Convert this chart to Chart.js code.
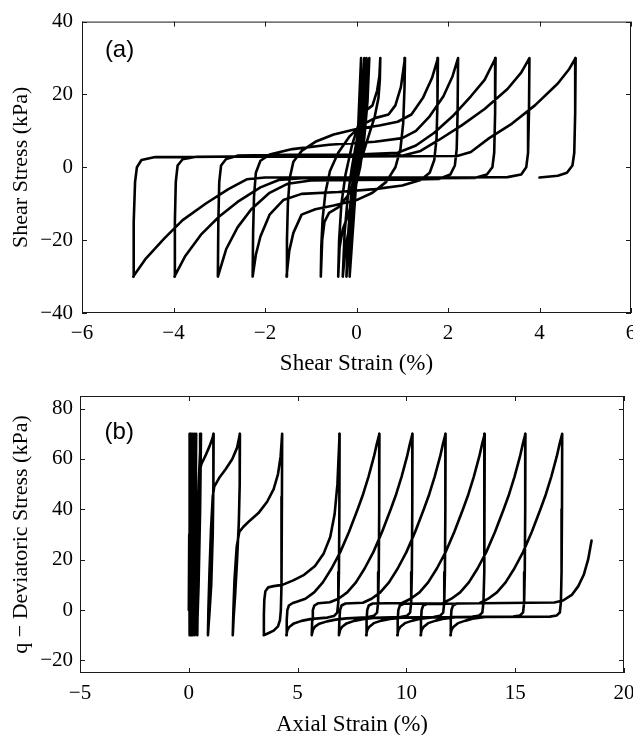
<!DOCTYPE html>
<html>
<head>
<meta charset="utf-8">
<script src="https://cdn.jsdelivr.net/npm/chart.js@4.4.1/dist/chart.umd.min.js"></script>
<style>
html, body { margin: 0; padding: 0; background: #fff; width: 633px; height: 735px; overflow: hidden; }
.panel { position: absolute; left: 0; }
#wrapA { top: 0; }
#wrapB { top: 370px; }
</style>
</head>
<body>
<div class="panel" id="wrapA"><canvas id="chartA" width="660" height="400"></canvas></div>
<div class="panel" id="wrapB"><canvas id="chartB" width="660" height="380"></canvas></div>
<script>
// tick values of both panels
var shearStrainTicks = [-6, -4, -2, 0, 2, 4, 6];
var shearStressTicks = [-40, -20, 0, 20, 40];
var axialStrainTicks = [-5, 0, 5, 10, 15, 20];
var deviatorTicks = [-20, 0, 20, 40, 60, 80];

// (a) simple shear: shear strain (%), shear stress (kPa), one row per half cycle
var shearPath = [
  [0, 0], [0.05, 15], [0.10, 30],
  [0.08, 18], [0.04, 6], [0.0, -3], [-0.05, -12], [-0.10, -21], [-0.15, -30],
  [-0.11, -18], [-0.06, -6], [0.0, 3], [0.06, 12], [0.12, 21], [0.17, 30],
  [0.14, 18], [0.09, 7], [0.02, -2], [-0.06, -10], [-0.14, -19], [-0.22, -30],
  [-0.18, -18], [-0.12, -8], [-0.04, 1], [0.04, 9], [0.13, 18], [0.22, 30],
  [0.19, 18], [0.13, 8], [0.05, 0], [-0.05, -8], [-0.15, -16], [-0.24, -22], [-0.30, -30],
  [-0.26, -18], [-0.19, -8], [-0.10, 0], [0.0, 7], [0.12, 15], [0.21, 21], [0.28, 30],
  [0.24, 18], [0.17, 8], [0.08, 0], [-0.05, -7], [-0.18, -13], [-0.30, -17], [-0.37, -22], [-0.40, -30],
  [-0.38, -20], [-0.33, -10], [-0.24, -2], [-0.10, 6], [0.05, 12], [0.20, 15.5], [0.35, 17], [0.45, 21], [0.50, 25], [0.52, 30],
  [0.51, 24], [0.48, 19], [0.40, 14], [0.25, 8], [0.10, 2], [-0.05, -4], [-0.20, -8], [-0.40, -11], [-0.60, -12.5], [-0.70, -15], [-0.75, -20], [-0.78, -30],
  [-0.77, -22], [-0.74, -14], [-0.68, -7], [-0.58, -1], [-0.40, 4], [-0.15, 8.5], [0.10, 11.5], [0.40, 13.5], [0.70, 14.5], [0.85, 17], [0.97, 22], [1.06, 30],
  [1.05, 22], [1.02, 12], [0.96, 5], [0.85, 0], [0.65, -4], [0.35, -7], [0.0, -9], [-0.50, -10.5], [-0.90, -11.5], [-1.20, -13], [-1.38, -18], [-1.47, -23], [-1.53, -30],
  [-1.52, -20], [-1.50, -10], [-1.46, -3], [-1.38, 1.5], [-1.20, 4.5], [-0.90, 7], [-0.50, 9], [0.0, 10.5], [0.50, 11.5], [0.90, 12.5], [1.20, 14.5], [1.45, 19], [1.65, 24.5], [1.78, 30],
  [1.77, 18], [1.75, 8], [1.70, 2], [1.60, -1.5], [1.40, -3.5], [1.00, -5], [0.40, -6], [-0.40, -6.8], [-1.20, -7.3], [-1.60, -9], [-1.90, -13], [-2.10, -19], [-2.20, -24], [-2.27, -30],
  [-2.26, -18], [-2.24, -8], [-2.20, -1.5], [-2.10, 1.8], [-1.90, 3.5], [-1.40, 5], [-0.60, 6.2], [0.40, 7], [1.00, 8], [1.30, 10], [1.60, 14], [1.90, 19.5], [2.10, 25], [2.22, 30],
  [2.21, 15], [2.19, 5], [2.15, 0.5], [2.05, -2], [1.80, -3.2], [1.00, -3.4], [0.0, -3.5], [-1.00, -3.6], [-1.50, -4.5], [-1.90, -7], [-2.30, -11.5], [-2.60, -16.5], [-2.85, -22.5], [-3.03, -30],
  [-3.02, -15], [-3.00, -4], [-2.96, 0.5], [-2.85, 2.3], [-2.60, 3.2], [-1.50, 3.4], [0.0, 3.5], [0.90, 4], [1.30, 6], [1.70, 9.5], [2.10, 14], [2.50, 19.5], [2.80, 24], [3.04, 30],
  [3.03, 15], [3.01, 4], [2.97, 0], [2.85, -2], [2.60, -2.9], [1.50, -3.0], [0.0, -3.0], [-1.20, -3.0], [-1.70, -3.5], [-2.10, -5.5], [-2.60, -9.5], [-3.00, -13.5], [-3.40, -18.5], [-3.75, -24.5], [-3.98, -30],
  [-3.97, -15], [-3.95, -4], [-3.91, 0.5], [-3.80, 2.2], [-3.50, 2.9], [-2.00, 3.0], [0.0, 3.0], [1.00, 3.2], [1.40, 4.5], [1.80, 7.5], [2.30, 11.5], [2.80, 16], [3.30, 21.5], [3.60, 26], [3.78, 30],
  [3.77, 15], [3.75, 4], [3.71, 0], [3.60, -2], [3.30, -2.7], [2.00, -2.8], [0.0, -2.8], [-2.00, -2.8], [-2.40, -3.3], [-2.80, -6], [-3.30, -10], [-3.80, -14.5], [-4.20, -19.5], [-4.60, -25], [-4.88, -30],
  [-4.87, -15], [-4.84, -4], [-4.80, 0], [-4.70, 2], [-4.40, 2.8], [-3.00, 2.9], [0.0, 3.0], [2.20, 3.1], [2.50, 4.2], [2.90, 8], [3.40, 12], [3.90, 17], [4.40, 23], [4.65, 27], [4.79, 30],
  [4.78, 15], [4.76, 4], [4.72, 0.5], [4.60, -1.5], [4.40, -2.3], [4.00, -2.8]
];

// (b) triaxial: axial strain (%), deviatoric stress q (kPa), one row per half cycle
var axialPath = [
  [0, 0], [0.02, 30], [0.05, 70],
  [0.04, 30], [0.01, -10],
  [0.05, 30], [0.10, 70],
  [0.08, 30], [0.05, -10],
  [0.10, 30], [0.17, 70],
  [0.14, 30], [0.10, -10],
  [0.16, 30], [0.25, 70],
  [0.21, 30], [0.17, -10],
  [0.23, 30], [0.34, 70],
  [0.30, 30], [0.27, -10],
  [0.33, 20], [0.45, 50], [0.56, 70],
  [0.52, 40], [0.45, 10], [0.40, -3], [0.38, -10],
  [0.40, 10], [0.45, 35], [0.50, 55], [0.58, 58], [0.75, 61], [0.95, 65], [1.08, 68], [1.14, 70],
  [1.13, 50], [1.10, 30], [1.03, 10], [0.96, 0], [0.91, -6], [0.88, -10],
  [0.90, 0], [0.95, 15], [1.02, 32], [1.10, 45], [1.17, 49], [1.40, 52.5], [1.70, 56], [2.00, 60], [2.22, 64.5], [2.35, 70],
  [2.34, 50], [2.30, 35], [2.22, 20], [2.13, 6], [2.06, -3], [2.02, -10],
  [2.05, 0], [2.10, 12], [2.20, 25], [2.32, 31], [2.50, 33], [2.80, 35.5], [3.20, 38.5], [3.60, 43], [3.90, 48], [4.10, 54], [4.22, 61], [4.29, 70],
  [4.28, 45], [4.27, 25], [4.25, 10], [4.23, 0], [4.19, -4], [4.10, -6.5], [3.90, -8.2], [3.65, -9.2], [3.44, -10],
  [3.45, -2], [3.47, 4], [3.52, 7.5], [3.65, 9], [3.90, 9.5], [4.30, 10], [4.80, 11.8], [5.30, 14], [5.80, 17.5], [6.20, 22.5], [6.50, 29], [6.70, 38], [6.83, 50], [6.93, 70],
  [6.92, 40], [6.90, 15], [6.87, 3], [6.82, -1], [6.67, -2.4], [6.37, -3], [6.08, -3.2], [5.58, -3.6], [5.18, -4.3], [4.83, -5.3], [4.63, -6.6], [4.53, -8], [4.48, -10],
  [4.50, -4], [4.53, 0], [4.60, 1.8], [4.78, 2.8], [4.96, 3.3], [5.36, 4.5], [5.76, 7], [6.16, 11], [6.56, 16.5], [6.96, 23], [7.36, 31], [7.76, 40], [8.01, 46], [8.26, 53], [8.51, 61], [8.64, 66], [8.76, 70],
  [8.75, 40], [8.73, 15], [8.70, 3], [8.65, -1], [8.50, -2.3], [8.20, -2.9], [7.25, -3.3], [6.75, -3.8], [6.35, -4.5], [6.00, -5.4], [5.80, -6.6], [5.70, -8], [5.65, -10],
  [5.67, -4], [5.70, 0], [5.77, 1.8], [5.95, 2.7], [6.48, 3.1], [6.88, 4.5], [7.28, 7], [7.68, 11], [8.08, 16.5], [8.48, 23], [8.88, 31], [9.28, 40], [9.53, 46], [9.78, 53], [10.03, 61], [10.16, 66], [10.28, 70],
  [10.27, 40], [10.25, 15], [10.22, 3], [10.17, -1], [10.02, -2.3], [9.72, -2.8], [8.50, -3.1], [8.00, -3.6], [7.60, -4.3], [7.25, -5.3], [7.05, -6.6], [6.95, -8], [6.90, -10],
  [6.92, -4], [6.95, 0], [7.02, 1.8], [7.20, 2.6], [8.00, 2.9], [8.40, 4.5], [8.80, 7], [9.20, 11], [9.60, 16.5], [10.00, 23], [10.40, 31], [10.80, 40], [11.05, 46], [11.30, 53], [11.55, 61], [11.68, 66], [11.80, 70],
  [11.79, 40], [11.77, 15], [11.74, 3], [11.69, -1], [11.54, -2.3], [11.24, -2.8], [9.75, -3.0], [9.25, -3.5], [8.85, -4.2], [8.50, -5.2], [8.30, -6.6], [8.20, -8], [8.15, -10],
  [8.17, -4], [8.20, 0], [8.27, 1.8], [8.45, 2.6], [9.80, 2.8], [10.20, 4.5], [10.60, 7], [11.00, 11], [11.40, 16.5], [11.80, 23], [12.20, 31], [12.60, 40], [12.85, 46], [13.10, 53], [13.35, 61], [13.48, 66], [13.60, 70],
  [13.59, 40], [13.57, 15], [13.54, 3], [13.49, -1], [13.34, -2.2], [13.04, -2.7], [11.18, -2.9], [10.68, -3.4], [10.28, -4.2], [9.93, -5.2], [9.73, -6.6], [9.63, -8], [9.58, -10],
  [9.60, -4], [9.63, 0], [9.70, 1.8], [9.88, 2.5], [11.67, 2.7], [12.07, 4.5], [12.47, 7], [12.87, 11], [13.27, 16.5], [13.67, 23], [14.07, 31], [14.47, 40], [14.72, 46], [14.97, 53], [15.22, 61], [15.35, 66], [15.47, 70],
  [15.46, 40], [15.44, 15], [15.41, 3], [15.36, -1], [15.21, -2.2], [14.91, -2.6], [12.25, -2.8], [11.75, -3.4], [11.35, -4.2], [11.00, -5.2], [10.80, -6.6], [10.70, -8], [10.65, -10],
  [10.67, -4], [10.70, 0], [10.77, 1.8], [10.95, 2.4], [13.36, 2.7], [13.76, 4.5], [14.16, 7], [14.56, 11], [14.96, 16.5], [15.36, 23], [15.76, 31], [16.16, 40], [16.41, 46], [16.66, 53], [16.91, 61], [17.04, 66], [17.16, 70],
  [17.15, 40], [17.13, 15], [17.10, 3], [17.05, -1], [16.90, -2.2], [16.60, -2.6], [13.62, -2.7], [13.12, -3.3], [12.72, -4.2], [12.37, -5.2], [12.17, -6.6], [12.07, -8], [12.02, -10],
  [12.04, -4], [12.07, 0], [12.14, 1.8], [12.32, 2.6], [16.80, 3.0], [17.20, 3.8], [17.60, 6], [17.90, 9.5], [18.15, 14], [18.35, 20], [18.51, 27.6]
];

var serif = '"Liberation Serif", "Times New Roman", serif';

function minusLabel(v) {
  return v < 0 ? '\u2212' + Math.abs(v) : String(v);
}

// box round the plot, inward ticks on all four sides and the panel letter
var framePlugin = {
  id: 'frame',
  afterDraw: function(chart, args, opts) {
    var ctx = chart.ctx, a = chart.chartArea;
    var xs = chart.scales.x, ys = chart.scales.y;
    ctx.save();
    ctx.strokeStyle = '#1a1a1a';
    ctx.lineWidth = 1;
    ctx.strokeRect(a.left + 0.5, a.top + 0.5, a.right - a.left - 1, a.bottom - a.top - 1);
    ctx.beginPath();
    xs.ticks.forEach(function(t) {
      var px = Math.round(xs.getPixelForValue(t.value)) + 0.5;
      ctx.moveTo(px, a.bottom); ctx.lineTo(px, a.bottom - 5);
      ctx.moveTo(px, a.top); ctx.lineTo(px, a.top + 5);
    });
    ys.ticks.forEach(function(t) {
      var py = Math.round(ys.getPixelForValue(t.value)) + 0.5;
      ctx.moveTo(a.left, py); ctx.lineTo(a.left + 5, py);
      ctx.moveTo(a.right, py); ctx.lineTo(a.right - 5, py);
    });
    ctx.stroke();
    ctx.fillStyle = '#000';
    ctx.font = '24px "Liberation Sans", Arial, sans-serif';
    ctx.textAlign = 'left';
    ctx.textBaseline = 'middle';
    ctx.fillText(opts.text, xs.getPixelForValue(opts.at[0]), ys.getPixelForValue(opts.at[1]));
    ctx.restore();
  }
};

function makePanel(id, path, cfg) {
  return new Chart(document.getElementById(id), {
    type: 'scatter',
    data: {
      datasets: [{
        data: path.map(function(p) { return {x: p[0], y: p[1]}; }),
        showLine: true,
        borderColor: '#000',
        borderWidth: 2.6,
        borderJoinStyle: 'round',
        borderCapStyle: 'round',
        pointRadius: 0,
        tension: 0
      }]
    },
    options: {
      responsive: false,
      animation: false,
      layout: { padding: cfg.padding },
      plugins: {
        legend: { display: false },
        tooltip: { enabled: false },
        frame: { text: cfg.letter, at: cfg.letterAt }
      },
      scales: {
        x: {
          type: 'linear',
          min: cfg.xTicks[0],
          max: cfg.xTicks[cfg.xTicks.length - 1],
          afterBuildTicks: function(s) { s.ticks = cfg.xTicks.map(function(v) { return {value: v}; }); },
          afterFit: function(s) { s.height = cfg.xHeight; },
          grid: { display: false, drawTicks: false },
          border: { display: false },
          ticks: { color: '#000', padding: 8, maxRotation: 0, font: { family: serif, size: 21 }, callback: minusLabel },
          title: { display: true, text: cfg.xTitle, color: '#000', padding: { top: 0, bottom: 2 }, font: { family: serif, size: 23 } }
        },
        y: {
          type: 'linear',
          min: cfg.yMin,
          max: cfg.yMax,
          afterBuildTicks: function(s) { s.ticks = cfg.yTicks.map(function(v) { return {value: v}; }); },
          afterFit: function(s) { s.width = cfg.yWidth; },
          grid: { display: false, drawTicks: false },
          border: { display: false },
          ticks: { color: '#000', padding: cfg.yPad, font: { family: serif, size: 21 }, callback: minusLabel },
          title: { display: true, text: cfg.yTitle, color: '#000', padding: { top: 8, bottom: 0 }, font: { family: serif, size: 22 } }
        }
      }
    },
    plugins: [framePlugin]
  });
}

makePanel('chartA', shearPath, {
  xTicks: shearStrainTicks, yTicks: shearStressTicks, yMin: -40, yMax: 40,
  xTitle: 'Shear Strain (%)', yTitle: 'Shear Stress (kPa)',
  letter: '(a)', letterAt: [-5.5, 32.2],
  padding: { top: 20, right: 29, bottom: 20, left: 0 },
  xHeight: 67, yWidth: 82, yPad: 9
});

makePanel('chartB', axialPath, {
  xTicks: axialStrainTicks, yTicks: deviatorTicks, yMin: -25, yMax: 85,
  xTitle: 'Axial Strain (%)', yTitle: 'q \u2212 Deviatoric Stress (kPa)',
  letter: '(b)', letterAt: [-3.87, 70.7],
  padding: { top: 26, right: 36, bottom: 9, left: 0 },
  xHeight: 68, yWidth: 80, yPad: 7
});
</script>
</body>
</html>
